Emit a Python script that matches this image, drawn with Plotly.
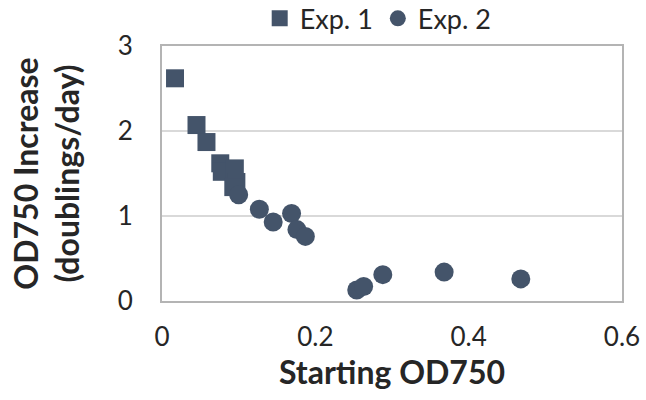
import plotly.graph_objects as go

# Experiment 1 (squares)
exp1_x = [0.017, 0.045, 0.058, 0.076, 0.078, 0.095, 0.097, 0.093]
exp1_y = [2.62, 2.07, 1.87, 1.62, 1.52, 1.56, 1.40, 1.34]

# Experiment 2 (circles)
exp2_x = [0.100, 0.127, 0.145, 0.169, 0.176, 0.187, 0.254, 0.263, 0.288, 0.368, 0.468]
exp2_y = [1.25, 1.08, 0.93, 1.03, 0.84, 0.76, 0.13, 0.17, 0.31, 0.34, 0.26]

x_ticks = [0, 0.2, 0.4, 0.6]
x_tick_text = ["0", "0.2", "0.4", "0.6"]
y_ticks = [0, 1, 2, 3]

color = "#44546A"
font_family = "Lato, Open Sans, sans-serif"
text_color = "#262626"
frame_color = "#B4B4B4"

fig = go.Figure()
fig.add_trace(go.Scatter(
    x=exp1_x, y=exp1_y, mode="markers", name="Exp. 1",
    marker=dict(symbol="square", size=18, color=color, line=dict(width=0)),
))
fig.add_trace(go.Scatter(
    x=exp2_x, y=exp2_y, mode="markers", name="Exp. 2",
    marker=dict(symbol="circle", size=19, color=color, line=dict(width=0)),
))

fig.update_layout(
    width=646, height=400,
    margin=dict(l=162, r=24, t=46, b=99, autoexpand=False),
    paper_bgcolor="white", plot_bgcolor="white",
    font=dict(family=font_family, color=text_color, size=26),
    showlegend=True,
    legend=dict(
        orientation="h", x=0.47, xanchor="center",
        yref="container", y=0.953, yanchor="middle",
        font=dict(size=27, color=text_color), itemsizing="trace",
        traceorder="normal", itemwidth=30, tracegroupgap=0,
    ),
    xaxis=dict(
        range=[0, 0.6], tickvals=x_ticks, ticktext=x_tick_text,
        showgrid=False, zeroline=False, showline=True, mirror=True,
        linecolor=frame_color, linewidth=2, ticks="", ticklabelstandoff=12,
        automargin=False, tickfont=dict(size=26, color=text_color),
        title=dict(text="<b>Starting OD750</b>", font=dict(size=32, color=text_color), standoff=2),
    ),
    yaxis=dict(
        range=[0, 3], tickvals=y_ticks,
        showgrid=True, gridcolor="#D9D9D9", gridwidth=2, zeroline=False,
        showline=True, mirror=True, linecolor=frame_color, linewidth=2, ticks="",
        ticklabelstandoff=22, automargin=False, tickfont=dict(size=26, color=text_color),
        title=dict(text="<b>OD750 Increase<br>(doublings/day)</b>", font=dict(size=32, color=text_color), standoff=28),
    ),
)

fig.write_html("out.html")
